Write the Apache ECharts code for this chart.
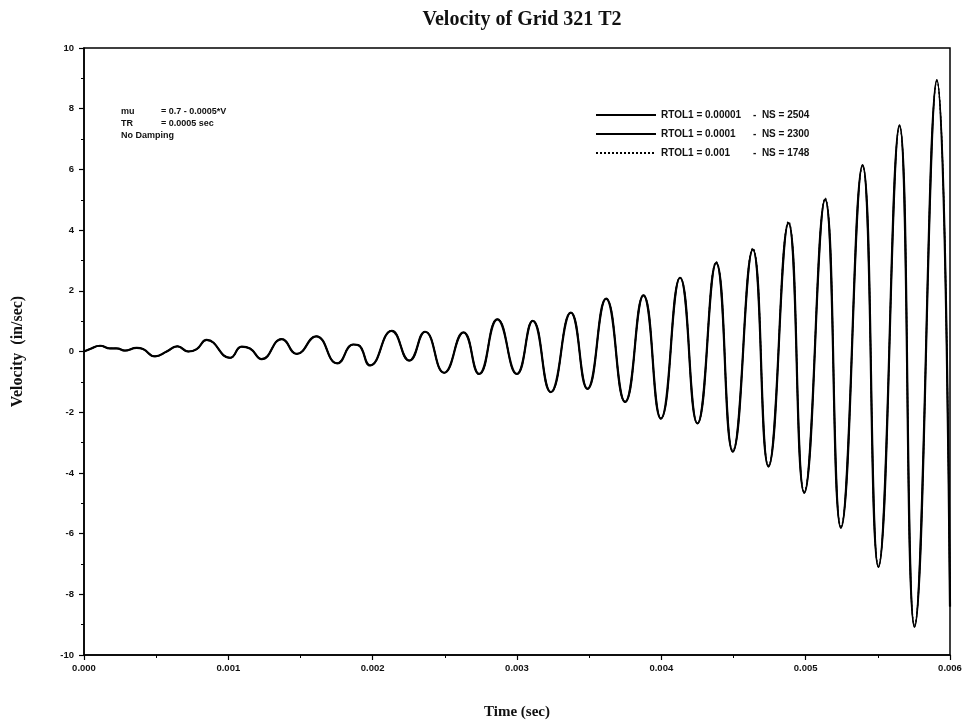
<!DOCTYPE html>
<html>
<head>
<meta charset="utf-8">
<script src="https://cdn.jsdelivr.net/npm/echarts@6/dist/echarts.min.js"></script>
<style>html,body{margin:0;padding:0;background:#fff}#c{width:967px;height:725px}</style>
</head>
<body>
<div id="c"></div>
<script>
// Time (sec)
const timeSec = [0, 0.000042, 0.000111, 0.000180, 0.000227, 0.000284, 0.000365, 0.000409, 0.000492, 0.000573,
  0.000647, 0.000723, 0.000781, 0.000850, 0.001012, 0.001093, 0.001150, 0.001231, 0.001370, 0.001474,
  0.001608, 0.001755, 0.001866, 0.001901, 0.001982, 0.002132, 0.002254, 0.002363, 0.002495, 0.002629,
  0.002737, 0.002864, 0.002999, 0.003109, 0.003234, 0.003373, 0.003488, 0.003617, 0.003749, 0.003876,
  0.003997, 0.004130, 0.004250, 0.004380, 0.004495, 0.004634, 0.004742, 0.004881, 0.004990, 0.005135,
  0.005244, 0.005394, 0.005504, 0.005650, 0.005754, 0.005909, 0.006000];
// Velocity (in/sec), RTOL1 = 0.00001
const velRtol1 = [0, 0.08, 0.19, 0.10, 0.10, 0.03, 0.12, 0.08, -0.16, 0.00,
  0.17, 0.00, 0.08, 0.38, -0.21, 0.16, 0.10, -0.25, 0.41, -0.08,
  0.50, -0.39, 0.23, 0.21, -0.46, 0.68, -0.30, 0.65, -0.70, 0.63,
  -0.74, 1.06, -0.74, 1.01, -1.34, 1.28, -1.23, 1.74, -1.66, 1.85,
  -2.21, 2.43, -2.37, 2.92, -3.30, 3.36, -3.79, 4.23, -4.66, 5.01,
  -5.81, 6.14, -7.10, 7.45, -9.07, 8.94, -8.40];
// RTOL1 = 0.0001
const velRtol2 = [0, 0.08, 0.19, 0.10, 0.10, 0.03, 0.12, 0.08, -0.16, 0.00,
  0.17, 0.00, 0.08, 0.38, -0.21, 0.16, 0.10, -0.25, 0.41, -0.08,
  0.50, -0.39, 0.23, 0.21, -0.46, 0.68, -0.30, 0.65, -0.70, 0.63,
  -0.74, 1.06, -0.74, 1.01, -1.34, 1.28, -1.23, 1.74, -1.66, 1.85,
  -2.21, 2.43, -2.37, 2.92, -3.30, 3.36, -3.79, 4.23, -4.66, 5.01,
  -5.81, 6.14, -7.10, 7.45, -9.07, 8.94, -8.40];
// RTOL1 = 0.001
const velRtol3 = [0, 0.08, 0.19, 0.10, 0.10, 0.03, 0.12, 0.08, -0.16, 0.00,
  0.17, 0.00, 0.08, 0.38, -0.21, 0.16, 0.10, -0.25, 0.41, -0.08,
  0.50, -0.39, 0.23, 0.21, -0.46, 0.68, -0.30, 0.65, -0.70, 0.63,
  -0.74, 1.06, -0.74, 1.01, -1.34, 1.28, -1.23, 1.74, -1.66, 1.85,
  -2.21, 2.43, -2.37, 2.95, -3.25, 3.40, -3.75, 4.28, -4.60, 5.05,
  -5.75, 6.10, -7.05, 7.40, -9.00, 8.90, -8.30];

const legendTol = ['RTOL1 = 0.00001', 'RTOL1 = 0.0001', 'RTOL1 = 0.001'];
const legendNs = ['-  NS = 2504', '-  NS = 2300', '-  NS = 1748'];
const seriesNames = legendTol.map((t, i) => t + ' ' + legendNs[i]);
const xTicks = ['0.000', '0.001', '0.002', '0.003', '0.004', '0.005', '0.006'];

const pair = (vals) => timeSec.map((t, i) => [t, vals[i]]);

const chart = echarts.init(document.getElementById('c'), null, {renderer: 'canvas'});
const sans = '"Liberation Sans", Arial, sans-serif';
const serif = '"Liberation Serif", "Times New Roman", serif';

chart.setOption({
  animation: false,
  backgroundColor: '#fff',
  title: {
    text: 'Velocity of Grid 321 T2',
    left: 517, top: 5, textAlign: 'center',
    textStyle: {fontFamily: serif, fontSize: 20, fontWeight: 'bold', color: '#111'}
  },
  grid: {left: 84, right: 17, top: 48, bottom: 68, show: true, borderColor: '#000', borderWidth: 1.5},
  legend: {
    orient: 'vertical', left: 590, top: 105, itemWidth: 60, itemHeight: 10, itemGap: 9,
    data: seriesNames,
    itemStyle: {opacity: 0},
    formatter: (name) => {
      const i = seriesNames.indexOf(name);
      return '{a|' + legendTol[i] + '}{b|' + legendNs[i] + '}';
    },
    textStyle: {
      fontFamily: sans, fontSize: 10, fontWeight: 'bold', color: '#111',
      rich: {
        a: {width: 92, fontFamily: sans, fontSize: 10, fontWeight: 'bold', color: '#111'},
        b: {fontFamily: sans, fontSize: 10, fontWeight: 'bold', color: '#111'}
      }
    }
  },
  graphic: [
    {type: 'text', left: 121, top: 107, style: {text: 'mu', font: 'bold 9px ' + sans, fill: '#111'}},
    {type: 'text', left: 161, top: 107, style: {text: '= 0.7 - 0.0005*V', font: 'bold 9px ' + sans, fill: '#111'}},
    {type: 'text', left: 121, top: 119, style: {text: 'TR', font: 'bold 9px ' + sans, fill: '#111'}},
    {type: 'text', left: 161, top: 119, style: {text: '= 0.0005 sec', font: 'bold 9px ' + sans, fill: '#111'}},
    {type: 'text', left: 121, top: 131, style: {text: 'No Damping', font: 'bold 9px ' + sans, fill: '#111'}}
  ],
  xAxis: {
    type: 'value', min: 0, max: 0.006, interval: 0.001,
    name: 'Time (sec)', nameLocation: 'middle', nameGap: 50,
    nameTextStyle: {fontFamily: serif, fontSize: 15, fontWeight: 'bold', color: '#111'},
    axisLine: {show: true, onZero: false, lineStyle: {color: '#000', width: 1.5}},
    axisTick: {show: true, inside: false, length: 5, lineStyle: {color: '#000', width: 1.2}},
    minorTick: {show: true, splitNumber: 2, length: 3, lineStyle: {color: '#000'}},
    splitLine: {show: false},
    axisLabel: {
      margin: 8, fontFamily: sans, fontSize: 9.5, fontWeight: 'bold', color: '#111',
      formatter: (v) => xTicks[Math.round(v * 1000)]
    }
  },
  yAxis: {
    type: 'value', min: -10, max: 10, interval: 2,
    name: 'Velocity  (in/sec)', nameLocation: 'middle', nameGap: 58, nameRotate: 90,
    nameTextStyle: {fontFamily: serif, fontSize: 16, fontWeight: 'bold', color: '#111'},
    axisLine: {show: true, onZero: false, lineStyle: {color: '#000', width: 1.5}},
    axisTick: {show: true, inside: false, length: 5, lineStyle: {color: '#000', width: 1.2}},
    minorTick: {show: true, splitNumber: 2, length: 3, lineStyle: {color: '#000'}},
    splitLine: {show: false},
    axisLabel: {margin: 10, fontFamily: sans, fontSize: 9.5, fontWeight: 'bold', color: '#111'}
  },
  series: [
    {name: seriesNames[0], type: 'line', data: pair(velRtol1), smooth: 0.5, symbol: 'none',
     lineStyle: {color: '#000', width: 1.5, type: 'solid'}, itemStyle: {color: '#000'}},
    {name: seriesNames[1], type: 'line', data: pair(velRtol2), smooth: 0.5, symbol: 'none',
     lineStyle: {color: '#000', width: 2.2, type: 'solid'}, itemStyle: {color: '#000'}},
    {name: seriesNames[2], type: 'line', data: pair(velRtol3), smooth: 0.5, symbol: 'none',
     lineStyle: {color: '#000', width: 1.3, type: [2, 2]}, itemStyle: {color: '#000'}}
  ]
});
</script>
</body>
</html>
